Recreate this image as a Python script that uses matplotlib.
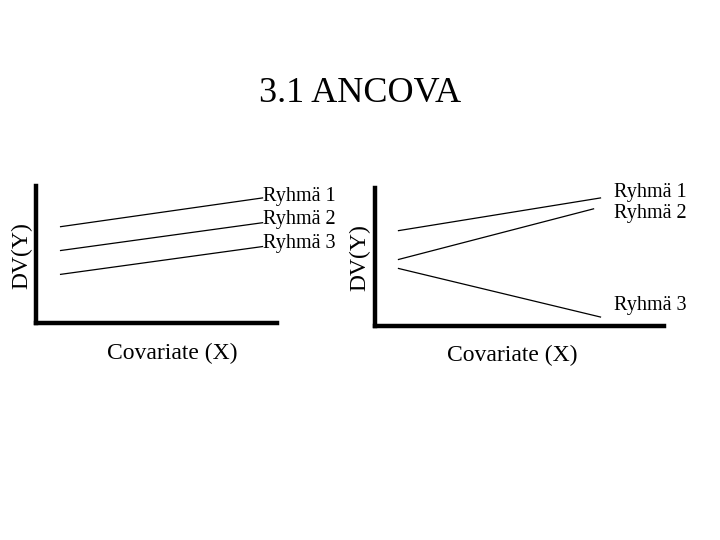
import matplotlib
matplotlib.use("Agg")
import matplotlib.pyplot as plt

plt.rcParams['font.family'] = ['Liberation Serif', 'DejaVu Serif']

title = "3.1 ANCOVA"
xlabel = "Covariate (X)"
ylabel = "DV(Y)"
groups = ["Ryhmä 1", "Ryhmä 2", "Ryhmä 3"]

# left panel: parallel slopes
left_x = [[1.04, 9.42], [1.04, 9.42], [1.04, 9.42]]
left_y = [[7.03, 9.13], [5.29, 7.32], [3.55, 5.58]]
left_lab_x = [9.46, 9.46, 9.46]
left_lab_y = [9.2, 7.54, 5.8]

# right panel: non-parallel slopes
right_x = [[0.83, 7.82], [0.83, 7.58], [0.83, 7.82]]
right_y = [[6.91, 9.28], [4.82, 8.49], [4.17, 0.65]]
right_lab_x = [8.27, 8.27, 8.27]
right_lab_y = [9.71, 8.13, 1.51]

fig = plt.figure(figsize=(7.2, 5.4), dpi=100)
fig.text(0.5, 1 - 93 / 540, title, ha='center', va='center', fontsize=26)


def panel(rect, xs, ys, lx, ly):
    ax = fig.add_axes(rect)
    for x, y in zip(xs, ys):
        ax.plot(x, y, color='black', lw=0.9)
    for name, tx, ty in zip(groups, lx, ly):
        ax.text(tx, ty, name, ha='left', va='center', fontsize=14.5)
    ax.set_xlim(0, 10)
    ax.set_ylim(0, 10)
    for s in ['top', 'right']:
        ax.spines[s].set_visible(False)
    for s in ['left', 'bottom']:
        ax.spines[s].set_linewidth(3.2)
        ax.spines[s].set_capstyle('projecting')
    ax.set_xticks([])
    ax.set_yticks([])
    return ax


ax1 = panel([35.5 / 720, 1 - 323 / 540, 241 / 720, 137 / 540],
            left_x, left_y, left_lab_x, left_lab_y)
ax2 = panel([374.5 / 720, 1 - 326 / 540, 289 / 720, 138 / 540],
            right_x, right_y, right_lab_x, right_lab_y)

fig.text(172 / 720, 1 - 353 / 540, xlabel, ha='center', va='center', fontsize=17)
fig.text(512 / 720, 1 - 355 / 540, xlabel, ha='center', va='center', fontsize=17)
fig.text(22 / 720, 1 - 256 / 540, ylabel, ha='center', va='center', fontsize=17, rotation=90)
fig.text(360 / 720, 1 - 258 / 540, ylabel, ha='center', va='center', fontsize=17, rotation=90)

fig.savefig("out.png", dpi=100)
